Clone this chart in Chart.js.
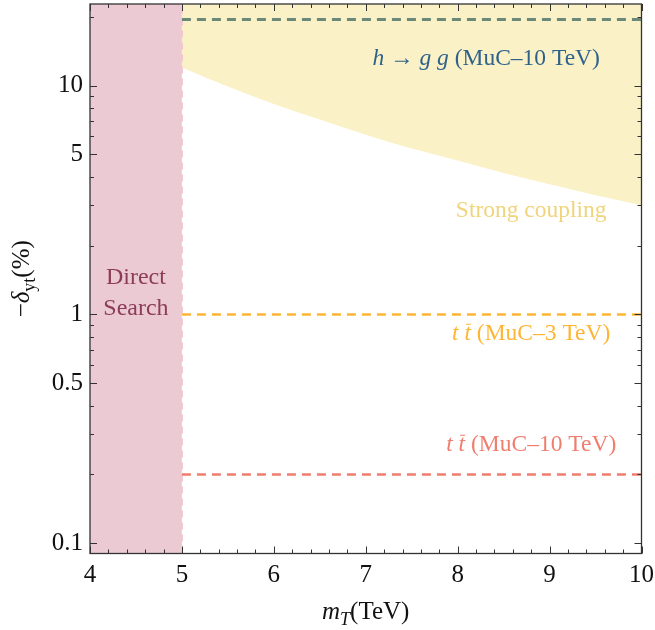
<!DOCTYPE html>
<html>
<head>
<meta charset="utf-8">
<script src="https://cdn.jsdelivr.net/npm/chart.js@4.4.1/dist/chart.umd.min.js"></script>
<style>
  html, body { margin: 0; padding: 0; background: #fff; }
  #wrap { width: 655px; height: 630px; position: relative; }
</style>
</head>
<body>
<div id="wrap"><canvas id="plot"></canvas></div>
<script>
// axis ranges
const xMin = 4, xMax = 10;
const yMin = 0.0903, yMax = 22.7;

// tick values and labels
const xTicks = [4, 5, 6, 7, 8, 9, 10];
const yTicks = [0.1, 0.5, 1, 5, 10];
const yTickLabels = ['0.1', '0.5', '1', '5', '10'];
const yMinorTicks = [0.2, 0.3, 0.4, 0.6, 0.7, 0.8, 0.9, 2, 3, 4, 6, 7, 8, 9, 20];

// strong coupling lower edge
const strongX = [5, 5.5, 6, 6.5, 7, 7.5, 8, 8.5, 9, 9.5, 10];
const strongY = [12.0, 9.9, 8.3, 7.1, 6.1, 5.3, 4.7, 4.15, 3.7, 3.32, 3.0];

// direct search excluded region and its edge
const directX = [4, 5];
const directEdge = 5;

// horizontal projections
const lineX = [5, 10];
const hggLevel = 19.4;
const tt3Level = 1.0;
const tt10Level = 0.2;

const serif = '"Liberation Serif", "Times New Roman", serif';

function pts(xs, ys) { return xs.map((x, i) => ({ x: x, y: ys[i] })); }
function flat(xs, v) { return xs.map(x => ({ x: x, y: v })); }

// text labels placed in data coordinates
const notes = [
  { x: 8.31, y: 13.3, color: '#2f628b', parts: [
    { t: 'h', it: true }, { t: ' \u2192 ' }, { t: 'g', it: true }, { t: ' ' }, { t: 'g', it: true }, { t: ' (MuC\u201310 TeV)' }] },
  { x: 8.80, y: 2.88, color: '#f0d47c', parts: [{ t: 'Strong coupling' }] },
  { x: 8.80, y: 0.834, color: '#ffb534', parts: [
    { t: 't', it: true }, { t: ' ' }, { t: 't', it: true, bar: true }, { t: ' (MuC\u20133 TeV)' }] },
  { x: 8.80, y: 0.273, color: '#ef7e6f', parts: [
    { t: 't', it: true }, { t: ' ' }, { t: 't', it: true, bar: true }, { t: ' (MuC\u201310 TeV)' }] },
  { x: 4.50, y: 1.466, color: '#8c3c59', size: 24, parts: [{ t: 'Direct' }] },
  { x: 4.50, y: 1.08, color: '#8c3c59', size: 24, parts: [{ t: 'Search' }] }
];

function fontFor(p, size) {
  const s = p.sub ? size * 0.72 : size;
  return (p.it ? 'italic ' : '') + s + 'px ' + serif;
}

// draws mixed italic / subscript text centred at (cx, cy)
function drawRich(ctx, parts, cx, cy, size, color) {
  ctx.save();
  ctx.fillStyle = color;
  ctx.strokeStyle = color;
  ctx.textBaseline = 'alphabetic';
  ctx.textAlign = 'left';
  let w = 0;
  parts.forEach(p => { ctx.font = fontFor(p, size); p.w = ctx.measureText(p.t).width; w += p.w; });
  let x = cx - w / 2;
  const base = cy + size * 0.33;
  parts.forEach(p => {
    ctx.font = fontFor(p, size);
    const y = p.sub ? base + size * 0.22 : base;
    ctx.fillText(p.t, x, y);
    if (p.bar) {
      ctx.lineWidth = 1;
      ctx.beginPath();
      ctx.moveTo(x + p.w * 0.25, base - size * 0.68);
      ctx.lineTo(x + p.w * 1.0, base - size * 0.68);
      ctx.stroke();
    }
    x += p.w;
  });
  ctx.restore();
}

const framePlugin = {
  id: 'frame',
  afterDraw(chart) {
    const ctx = chart.ctx;
    const a = chart.chartArea;
    const xs = chart.scales.x, ys = chart.scales.y;
    ctx.save();
    ctx.strokeStyle = '#333';
    ctx.lineWidth = 1.3;
    ctx.strokeRect(a.left, a.top, a.right - a.left, a.bottom - a.top);

    ctx.lineWidth = 1;
    const tick = (x1, y1, x2, y2) => { ctx.beginPath(); ctx.moveTo(x1, y1); ctx.lineTo(x2, y2); ctx.stroke(); };
    // x ticks on bottom and top
    for (let i = 0; i <= (xMax - xMin) * 5; i++) {
      const v = xMin + i * 0.2;
      const px = Math.round(xs.getPixelForValue(v)) + 0.5;
      const len = (i % 5 === 0) ? 7 : 4;
      tick(px, a.bottom, px, a.bottom - len);
      tick(px, a.top, px, a.top + len);
    }
    // y ticks on left and right
    const yAll = yTicks.map(v => [v, 7]).concat(yMinorTicks.map(v => [v, 4]));
    yAll.forEach(([v, len]) => {
      const py = Math.round(ys.getPixelForValue(v)) + 0.5;
      tick(a.left, py, a.left + len, py);
      tick(a.right, py, a.right - len, py);
    });
    ctx.restore();

    // annotations
    notes.forEach(n => {
      drawRich(ctx, n.parts, xs.getPixelForValue(n.x), ys.getPixelForValue(n.y), n.size || 23.5, n.color);
    });

    // axis titles
    const cx = (a.left + a.right) / 2;
    drawRich(ctx, [{ t: 'm', it: true }, { t: 'T', it: true, sub: true }, { t: '(TeV)' }], cx, 611, 25, '#111');
    ctx.save();
    ctx.translate(21, (a.top + a.bottom) / 2);
    ctx.rotate(-Math.PI / 2);
    drawRich(ctx, [{ t: '\u2212' }, { t: '\u03b4', it: true }, { t: 'yt', sub: true }, { t: '(%)' }], 0, 0, 25, '#111');
    ctx.restore();
  }
};

new Chart(document.getElementById('plot'), {
  type: 'line',
  data: {
    datasets: [
      { label: 'hgg', data: flat(lineX, hggLevel), borderColor: '#6b8879', borderWidth: 3, borderDash: [9, 6], pointRadius: 0, fill: false },
      { label: 'tt3', data: flat(lineX, tt3Level), borderColor: '#ffb534', borderWidth: 2.5, borderDash: [9, 6], pointRadius: 0, fill: false },
      { label: 'tt10', data: flat(lineX, tt10Level), borderColor: '#ef7e6f', borderWidth: 2.5, borderDash: [9, 6], pointRadius: 0, fill: false },
      { label: 'edge', data: [{ x: directEdge, y: yMin }, { x: directEdge, y: yMax }], borderColor: '#f4c5d0', borderWidth: 2, borderDash: [7, 5], pointRadius: 0, fill: false },
      { label: 'strong', data: pts(strongX, strongY), borderColor: 'rgba(0,0,0,0)', borderWidth: 0, backgroundColor: '#faf1c6', pointRadius: 0, fill: 'end', cubicInterpolationMode: 'monotone' },
      { label: 'direct', data: flat(directX, yMax), borderColor: 'rgba(0,0,0,0)', borderWidth: 0, backgroundColor: '#ebcad3', pointRadius: 0, fill: 'start' }
    ]
  },
  options: {
    responsive: true,
    maintainAspectRatio: false,
    animation: false,
    layout: { padding: { top: 4, right: 13.5, left: 0, bottom: 0 } },
    plugins: { legend: { display: false }, tooltip: { enabled: false } },
    scales: {
      x: {
        type: 'linear', min: xMin, max: xMax,
        grid: { display: false, drawTicks: false },
        border: { display: false },
        afterBuildTicks: s => { s.ticks = xTicks.map(v => ({ value: v })); },
        afterFit: s => { s.height = 76.5; s.paddingLeft = 0; s.paddingRight = 0; },
        ticks: { padding: 7, color: '#111', font: { family: serif, size: 25 }, maxRotation: 0, callback: v => String(v) }
      },
      y: {
        type: 'logarithmic', min: yMin, max: yMax,
        grid: { display: false, drawTicks: false },
        border: { display: false },
        afterBuildTicks: s => { s.ticks = yTicks.map(v => ({ value: v })); },
        afterFit: s => { s.width = 90; s.paddingTop = 0; s.paddingBottom = 0; },
        ticks: { padding: 7, color: '#111', font: { family: serif, size: 25 },
          callback: v => { const i = yTicks.indexOf(v); return i >= 0 ? yTickLabels[i] : ''; } }
      }
    }
  },
  plugins: [framePlugin]
});
</script>
</body>
</html>
